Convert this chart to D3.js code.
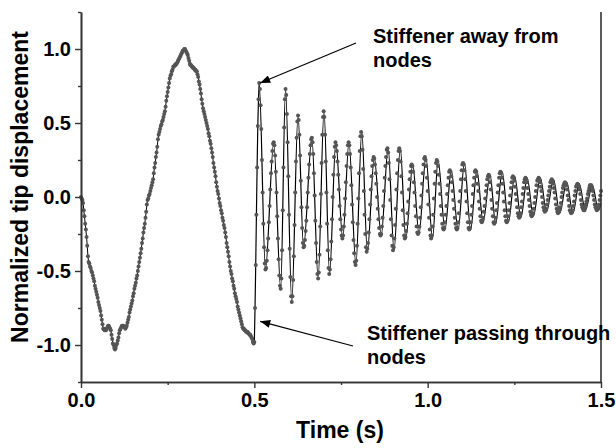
<!DOCTYPE html>
<html><head><meta charset="utf-8">
<script src="https://cdn.jsdelivr.net/npm/d3@7"></script>
<style>body{margin:0;background:#fff}svg{display:block;background:#fff}</style>
</head><body>
<svg id="chart" width="616" height="448"></svg>
<script>
// ---- data ----
const sampleStep = 0.002; // s between samples of the dotted series
// "Stiffener passing through nodes" (dotted series), samples from t=0 to t=1.5 s
const passingThroughNodes = [
0,-0.01,-0.02,-0.04,-0.09,-0.13,-0.18,-0.22,-0.27,-0.33,
-0.40,-0.44,-0.45,-0.47,-0.48,-0.50,-0.51,-0.53,-0.55,-0.57,
-0.60,-0.62,-0.64,-0.66,-0.68,-0.71,-0.73,-0.75,-0.77,-0.80,
-0.83,-0.86,-0.89,-0.89,-0.90,-0.90,-0.90,-0.89,-0.88,-0.87,
-0.87,-0.88,-0.89,-0.90,-0.93,-0.96,-0.99,-1.00,-1.02,-1.03,
-1.02,-1.00,-0.99,-0.97,-0.95,-0.92,-0.90,-0.89,-0.88,-0.87,
-0.87,-0.87,-0.88,-0.88,-0.89,-0.88,-0.87,-0.85,-0.83,-0.81,
-0.78,-0.76,-0.74,-0.72,-0.70,-0.67,-0.65,-0.62,-0.60,-0.58,
-0.55,-0.53,-0.50,-0.47,-0.44,-0.41,-0.38,-0.35,-0.31,-0.28,
-0.24,-0.21,-0.18,-0.14,-0.10,-0.05,-0.02,-0.01,0.01,0.02,
0.04,0.06,0.08,0.10,0.12,0.16,0.20,0.23,0.27,0.30,
0.34,0.39,0.42,0.44,0.46,0.48,0.49,0.51,0.52,0.54,
0.56,0.58,0.61,0.65,0.68,0.71,0.74,0.77,0.80,0.82,
0.83,0.85,0.86,0.88,0.88,0.89,0.89,0.90,0.90,0.91,
0.92,0.93,0.94,0.95,0.96,0.97,0.98,0.99,0.99,1.00,
1.00,0.99,0.98,0.97,0.96,0.94,0.92,0.90,0.89,0.89,
0.88,0.88,0.87,0.87,0.86,0.86,0.85,0.85,0.83,0.81,
0.78,0.76,0.73,0.70,0.66,0.63,0.60,0.58,0.56,0.54,
0.52,0.50,0.48,0.46,0.43,0.41,0.38,0.36,0.33,0.30,
0.27,0.23,0.20,0.17,0.14,0.10,0.07,0.04,0.02,-0.01,
-0.04,-0.06,-0.09,-0.11,-0.14,-0.16,-0.19,-0.21,-0.24,-0.27,
-0.31,-0.34,-0.37,-0.40,-0.44,-0.47,-0.50,-0.52,-0.55,-0.57,
-0.60,-0.62,-0.65,-0.67,-0.69,-0.71,-0.74,-0.76,-0.78,-0.80,
-0.82,-0.84,-0.86,-0.88,-0.89,-0.89,-0.90,-0.90,-0.91,-0.91,
-0.91,-0.92,-0.92,-0.93,-0.93,-0.94,-0.95,-0.96,-0.98,-0.99,
-0.98,-0.75,-0.46,-0.12,0.20,0.48,0.66,0.77,0.73,0.62,
0.46,0.25,0.03,-0.18,-0.34,-0.45,-0.49,-0.48,-0.43,-0.36,
-0.28,-0.17,-0.06,0.05,0.16,0.24,0.31,0.36,0.37,0.35,
0.28,0.17,0.03,-0.13,-0.28,-0.42,-0.53,-0.60,-0.62,-0.55,
-0.36,-0.09,0.20,0.47,0.66,0.73,0.69,0.56,0.37,0.14,
-0.12,-0.35,-0.54,-0.67,-0.71,-0.67,-0.56,-0.40,-0.19,0.03,
0.24,0.40,0.51,0.55,0.52,0.42,0.28,0.11,-0.07,-0.21,
-0.31,-0.34,-0.33,-0.29,-0.23,-0.16,-0.07,0.03,0.13,0.22,
0.29,0.35,0.39,0.40,0.37,0.29,0.16,0.01,-0.16,-0.31,
-0.44,-0.52,-0.55,-0.51,-0.39,-0.20,0.02,0.23,0.42,0.54,
0.58,0.54,0.42,0.24,0.03,-0.18,-0.36,-0.48,-0.52,-0.49,
-0.42,-0.30,-0.15,0.00,0.15,0.27,0.34,0.37,0.35,0.31,
0.24,0.15,0.05,-0.06,-0.15,-0.22,-0.26,-0.28,-0.26,-0.20,
-0.12,-0.01,0.10,0.21,0.29,0.35,0.37,0.35,0.29,0.20,
0.08,-0.05,-0.17,-0.29,-0.38,-0.44,-0.46,-0.43,-0.33,-0.18,
-0.01,0.16,0.31,0.41,0.44,0.41,0.32,0.19,0.04,-0.12,
-0.25,-0.34,-0.37,-0.35,-0.31,-0.24,-0.15,-0.05,0.05,0.14,
0.21,0.25,0.27,0.26,0.22,0.16,0.09,0.00,-0.08,-0.15,
-0.21,-0.25,-0.26,-0.25,-0.20,-0.14,-0.06,0.04,0.13,0.21,
0.27,0.32,0.33,0.30,0.23,0.12,-0.02,-0.15,-0.26,-0.33,
-0.36,-0.34,-0.28,-0.19,-0.08,0.05,0.16,0.25,0.31,0.33,
0.31,0.24,0.14,0.03,-0.09,-0.19,-0.26,-0.28,-0.27,-0.23,
-0.18,-0.11,-0.03,0.05,0.12,0.17,0.21,0.22,0.21,0.17,
0.10,0.03,-0.06,-0.13,-0.20,-0.24,-0.25,-0.24,-0.20,-0.14,
-0.07,0.01,0.09,0.16,0.22,0.26,0.27,0.25,0.21,0.13,
0.04,-0.05,-0.14,-0.22,-0.26,-0.28,-0.26,-0.20,-0.12,-0.01,
0.09,0.17,0.23,0.25,0.24,0.21,0.15,0.09,0.02,-0.06,
-0.12,-0.18,-0.21,-0.22,-0.21,-0.17,-0.12,-0.06,0.02,0.08,
0.13,0.17,0.18,0.17,0.14,0.10,0.04,-0.02,-0.08,-0.14,
-0.18,-0.21,-0.22,-0.21,-0.17,-0.11,-0.03,0.04,0.12,0.18,
0.22,0.23,0.22,0.18,0.12,0.04,-0.03,-0.11,-0.17,-0.21,
-0.22,-0.21,-0.17,-0.12,-0.06,0.02,0.08,0.13,0.17,0.18,
0.17,0.14,0.09,0.04,-0.03,-0.08,-0.13,-0.16,-0.17,-0.16,
-0.14,-0.10,-0.06,-0.01,0.04,0.08,0.12,0.14,0.15,0.14,
0.10,0.05,-0.02,-0.08,-0.13,-0.17,-0.18,-0.17,-0.14,-0.09,
-0.04,0.03,0.08,0.13,0.16,0.17,0.16,0.13,0.09,0.03,
-0.03,-0.09,-0.13,-0.16,-0.17,-0.16,-0.13,-0.09,-0.04,0.01,
0.06,0.10,0.13,0.14,0.13,0.11,0.07,0.02,-0.02,-0.07,
-0.11,-0.13,-0.14,-0.13,-0.11,-0.07,-0.03,0.02,0.06,0.10,
0.12,0.13,0.12,0.10,0.06,0.02,-0.02,-0.06,-0.10,-0.12,
-0.13,-0.12,-0.11,-0.08,-0.04,0.00,0.04,0.08,0.11,0.12,
0.13,0.12,0.10,0.07,0.04,0.00,-0.04,-0.07,-0.09,-0.10,
-0.09,-0.08,-0.05,-0.02,0.01,0.04,0.07,0.10,0.11,0.12,
0.11,0.09,0.06,0.03,-0.01,-0.05,-0.08,-0.10,-0.11,-0.10,
-0.09,-0.07,-0.04,0.00,0.03,0.06,0.08,0.09,0.10,0.09,
0.08,0.05,0.01,-0.02,-0.06,-0.09,-0.10,-0.11,-0.10,-0.09,
-0.06,-0.03,0.01,0.04,0.07,0.08,0.09,0.08,0.07,0.05,
0.02,-0.02,-0.05,-0.07,-0.08,-0.09,-0.09,-0.07,-0.05,-0.03,
-0.01,0.02,0.04,0.06,0.08,0.08,0.08,0.06,0.04,0.01,
-0.02,-0.05,-0.07,-0.08,-0.09,-0.08,-0.07,-0.05,-0.02,0.01,
0.04
];
// "Stiffener away from nodes" (solid line) after t = 0.5 s: turning points
const awayTime = [0.500,0.502,0.504,0.506,0.508,0.510,0.512,0.514,0.532,0.556,0.576,0.590,0.608,0.626,0.642,0.666,0.684,0.701,0.717,0.735,0.755,0.773,0.793,0.810,0.826,0.846,0.866,0.886,0.903,0.921,0.937,0.957,0.975,0.995,1.014,1.030,1.050,1.068,1.088,1.106,1.124,1.142,1.160,1.180,1.196,1.215,1.233,1.251,1.269,1.287,1.305,1.325,1.343,1.363,1.381,1.401,1.419,1.437,1.455,1.475,1.493,1.500];
const awayValue = [-0.98,-0.75,-0.46,-0.12,0.20,0.48,0.66,0.77,-0.49,0.37,-0.62,0.73,-0.71,0.55,-0.34,0.40,-0.55,0.58,-0.52,0.37,-0.28,0.37,-0.46,0.44,-0.37,0.27,-0.26,0.33,-0.36,0.33,-0.28,0.22,-0.25,0.27,-0.28,0.25,-0.22,0.18,-0.22,0.23,-0.22,0.18,-0.17,0.15,-0.18,0.17,-0.17,0.14,-0.14,0.13,-0.13,0.13,-0.10,0.12,-0.11,0.10,-0.11,0.09,-0.09,0.08,-0.09,-0.04];
const switchTime = 0.5; // before this both cases share the same response

const xTicks = [0, 0.5, 1.0, 1.5];
const xTickLabels = ["0.0", "0.5", "1.0", "1.5"];
const xMinorTicks = [0.25, 0.75, 1.25];
const yTicks = [-1, -0.5, 0, 0.5, 1];
const yTickLabels = ["-1.0", "-0.5", "0.0", "0.5", "1.0"];
const yMinorTicks = [-1.25, -0.75, -0.25, 0.25, 0.75, 1.25];
const xTitle = "Time (s)";
const yTitle = "Normalized tip displacement";
const noteAway = ["Stiffener away from", "nodes"];
const notePassing = ["Stiffener passing through", "nodes"];
const noteAwayTarget = [0.514, 0.77];
const notePassingTarget = [0.514, -0.84];

// ---- drawing ----
const svg = d3.select("#chart");
const W = 616, H = 448;
const pL = 81, pR = 601, pT = 12, pB = 382;
const x = d3.scaleLinear().domain([0, 1.5]).range([pL, pR]);
const y = d3.scaleLinear().domain([-1.25, 1.25]).range([pB, pT]);
const axisColor = "#333";
const fontFam = "'Liberation Sans', Arial, sans-serif";

svg.append("rect").attr("width", W).attr("height", H).attr("fill", "#fff");

const dotted = passingThroughNodes.map((v, i) => ({t: i * sampleStep, v}));
const shared = dotted.filter(d => d.t <= switchTime + 1e-9);
const away = awayTime.map((t, i) => ({t, v: awayValue[i]}));

// solid line (shared part + away-from-nodes case)
svg.append("path").datum(shared)
  .attr("fill", "none").attr("stroke", "#000").attr("stroke-width", 1)
  .attr("d", d3.line().x(d => x(d.t)).y(d => y(d.v)));
svg.append("path").datum(away)
  .attr("fill", "none").attr("stroke", "#000").attr("stroke-width", 1.2)
  .attr("d", d3.line().x(d => x(d.t)).y(d => y(d.v)).curve(d3.curveMonotoneX));

// dots
svg.append("g").selectAll("circle").data(dotted).join("circle")
  .attr("cx", d => x(d.t)).attr("cy", d => y(d.v)).attr("r", 2)
  .attr("fill", "#555");

// axes
function styleAxis(g) {
  g.selectAll("path.domain").attr("stroke", axisColor).attr("stroke-width", 1.6);
  g.selectAll(".tick line").attr("stroke", axisColor).attr("stroke-width", 1.4);
  g.selectAll(".tick text").attr("fill", "#000").attr("font-family", fontFam)
    .attr("font-weight", "bold").attr("font-size", 20);
}
const gx = svg.append("g").attr("transform", `translate(0,${pB})`)
  .call(d3.axisBottom(x).tickValues(xTicks).tickFormat((d, i) => xTickLabels[i]).tickSize(6).tickSizeOuter(0).tickPadding(5));
styleAxis(gx);
const gxm = svg.append("g").attr("transform", `translate(0,${pB})`)
  .call(d3.axisBottom(x).tickValues(xMinorTicks).tickFormat("").tickSize(3).tickSizeOuter(0));
styleAxis(gxm);
const gy = svg.append("g").attr("transform", `translate(${pL},0)`)
  .call(d3.axisLeft(y).tickValues(yTicks).tickFormat((d, i) => yTickLabels[i]).tickSize(6).tickSizeOuter(0).tickPadding(4));
styleAxis(gy);
const gym = svg.append("g").attr("transform", `translate(${pL},0)`)
  .call(d3.axisLeft(y).tickValues(yMinorTicks).tickFormat("").tickSize(3).tickSizeOuter(0));
styleAxis(gym);
svg.append("line").attr("x1", pR).attr("x2", pR).attr("y1", pT).attr("y2", pB)
  .attr("stroke", axisColor).attr("stroke-width", 1.6);

// titles
svg.append("text").attr("x", (pL + pR) / 2 - 1).attr("y", 438)
  .attr("text-anchor", "middle").attr("font-family", fontFam).attr("font-weight", "bold")
  .attr("font-size", 23).text(xTitle);
svg.append("text").attr("transform", "translate(28,187) rotate(-90)")
  .attr("text-anchor", "middle").attr("font-family", fontFam).attr("font-weight", "bold")
  .attr("font-size", 23).text(yTitle);

// annotations
svg.append("defs").append("marker").attr("id", "ah").attr("viewBox", "0 0 10 8")
  .attr("refX", 10).attr("refY", 4).attr("markerWidth", 11).attr("markerHeight", 8)
  .attr("markerUnits", "userSpaceOnUse").attr("orient", "auto")
  .append("path").attr("d", "M0,0 L10,4 L0,8 Z").attr("fill", "#000");

function note(lines, tx, ty, from, target) {
  const t = svg.append("text").attr("font-family", fontFam).attr("font-weight", "bold")
    .attr("font-size", 20).attr("fill", "#000");
  lines.forEach((s, i) => t.append("tspan").attr("x", tx).attr("y", ty + i * 24).text(s));
  svg.append("line").attr("x1", from[0]).attr("y1", from[1])
    .attr("x2", x(target[0]) + 1).attr("y2", y(target[1]))
    .attr("stroke", "#000").attr("stroke-width", 1.2).attr("marker-end", "url(#ah)");
}
note(noteAway, 373, 43, [356, 43], noteAwayTarget);
note(notePassing, 367, 340, [353, 346], notePassingTarget);
</script>
</body></html>
